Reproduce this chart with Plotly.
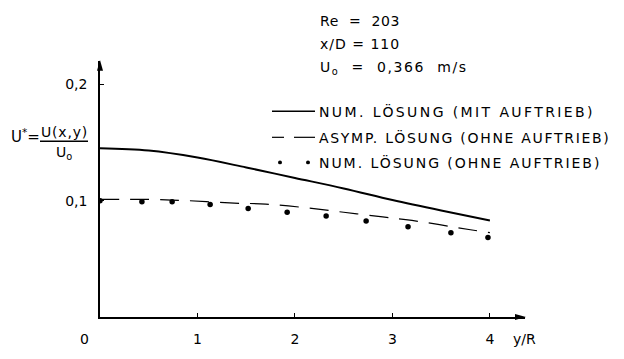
import plotly.graph_objects as go

# velocity profiles U* = U(x,y)/U0 over y/R
y_solid = [0.0, 0.5, 1.0, 1.5, 2.0, 2.5, 3.0, 3.5, 4.0]
u_solid = [0.145, 0.143, 0.137, 0.1285, 0.1195, 0.1105, 0.1005, 0.0915, 0.083]

y_dash = [0.0, 0.5, 0.9, 1.33, 1.7, 2.1, 2.5, 2.9, 3.2, 3.8, 4.0]
u_dash = [0.101, 0.101, 0.100, 0.098, 0.097, 0.094, 0.090, 0.086, 0.083, 0.075, 0.0725]

y_dots = [0.0, 0.43, 0.74, 1.13, 1.52, 1.92, 2.32, 2.73, 3.16, 3.60, 3.98]
u_dots = [0.100, 0.099, 0.099, 0.0967, 0.0933, 0.090, 0.0867, 0.0825, 0.0775, 0.0725, 0.0683]

x_ticks = [1, 2, 3, 4]
y_ticks = [0.1, 0.2]
y_ticklabels = ["0,1", "0,2"]

legend_labels = [
    "NUM. LÖSUNG (MIT AUFTRIEB)",
    "ASYMP. LÖSUNG (OHNE AUFTRIEB)",
    "NUM. LÖSUNG (OHNE AUFTRIEB)",
]
params = ["Re  =  203", "x/D = 110", "U<sub>o</sub>  =  0,366  m/s"]

W, H = 624, 359
L, R, T, B = 100, 99, 61, 33
XMAX, YMAX = 4.36, 0.22
FONT = "DejaVu Sans"


def px(xp):
    return (xp - L) / (W - L - R)


def py(yp):
    return (H - B - yp) / (H - T - B)


def spaced(s, ls):
    return f'<span style="letter-spacing:{ls}px">{s}</span>'


fig = go.Figure()
fig.add_trace(go.Scatter(x=y_solid, y=u_solid, mode="lines", line=dict(color="black", width=2, shape="spline")))
fig.add_trace(go.Scatter(x=y_dash, y=u_dash, mode="lines", line=dict(color="black", width=1.2, dash="19px,11px", shape="spline")))
fig.add_trace(go.Scatter(x=y_dots, y=u_dots, mode="markers", marker=dict(color="black", size=5.5)))

shapes = []
annotations = []
txt = dict(family=FONT, color="black")

# legend samples
rows = [113, 140, 166]
shapes.append(dict(type="line", xref="paper", yref="paper", x0=px(272), x1=px(315), y0=py(rows[0]), y1=py(rows[0]), line=dict(color="black", width=1.5)))
for a, b in [(272, 284), (294, 315)]:
    shapes.append(dict(type="line", xref="paper", yref="paper", x0=px(a), x1=px(b), y0=py(rows[1]), y1=py(rows[1]), line=dict(color="black", width=1.2)))
for cx in [280, 308]:
    shapes.append(dict(type="circle", xref="paper", yref="paper", x0=px(cx - 2), x1=px(cx + 2), y0=py(rows[2] + 2), y1=py(rows[2] - 2), fillcolor="black", line=dict(color="black", width=0)))
for row, lab, ls in zip(rows, legend_labels, [2.4, 1.7, 1.95]):
    annotations.append(dict(xref="paper", yref="paper", x=px(317), y=py(row), text=spaced(lab, ls), showarrow=False, xanchor="left", yanchor="middle", font=dict(size=14, **txt)))

# flow parameters
for row, lab, ls in zip([20, 43, 68], params, [0.6, 1.0, 1.6]):
    annotations.append(dict(xref="paper", yref="paper", x=px(318), y=py(row), text=spaced(lab, ls), showarrow=False, xanchor="left", yanchor="middle", font=dict(size=14, **txt)))

# axis title U* = U(x,y)/U0
annotations.append(dict(xref="paper", yref="paper", x=px(9), y=py(139), text="U<sup>*</sup>=", showarrow=False, xanchor="left", yanchor="middle", font=dict(size=15, **txt)))
annotations.append(dict(xref="paper", yref="paper", x=px(64), y=py(134), text=spaced("U(x,y)", 0.8), showarrow=False, xanchor="center", yanchor="middle", font=dict(size=14, **txt)))
annotations.append(dict(xref="paper", yref="paper", x=px(64), y=py(156), text="U<sub>o</sub>", showarrow=False, xanchor="center", yanchor="middle", font=dict(size=14, **txt)))
shapes.append(dict(type="line", xref="paper", yref="paper", x0=px(40), x1=px(88), y0=py(144), y1=py(144), line=dict(color="black", width=1.5)))

# origin and axis labels
annotations.append(dict(xref="paper", yref="paper", x=px(84), y=py(349), text="0", showarrow=False, xanchor="center", yanchor="middle", font=dict(size=14, **txt)))
annotations.append(dict(xref="paper", yref="paper", x=px(524), y=py(349), text="y/R", showarrow=False, xanchor="center", yanchor="middle", font=dict(size=14, **txt)))

# axis arrowheads
x_tip, y_tip = px(526), py(326)
shapes.append(dict(type="path", xref="paper", yref="paper",
                   path=f"M {x_tip} {y_tip} L {px(515)} {py(323)} L {px(515)} {py(329)} Z",
                   fillcolor="black", line=dict(color="black", width=0)))
shapes.append(dict(type="path", xref="paper", yref="paper",
                   path=f"M {px(100)} {py(60)} L {px(97)} {py(71)} L {px(103)} {py(71)} Z",
                   fillcolor="black", line=dict(color="black", width=0)))

fig.update_layout(
    width=W, height=H,
    margin=dict(l=L, r=R, t=T, b=B),
    paper_bgcolor="white", plot_bgcolor="white",
    showlegend=False,
    shapes=shapes, annotations=annotations,
    font=dict(family=FONT, size=14, color="black"),
)
fig.update_xaxes(
    range=[0, XMAX], showgrid=False, zeroline=False,
    showline=True, linecolor="black", linewidth=1.6,
    tickvals=x_ticks, ticktext=[str(v) for v in x_ticks],
    ticks="inside", ticklen=4, tickcolor="black", tickwidth=1,
    ticklabelstandoff=8,
)
fig.update_yaxes(
    range=[0, YMAX], showgrid=False, zeroline=False,
    showline=True, linecolor="black", linewidth=1.6,
    tickvals=y_ticks, ticktext=y_ticklabels,
    ticks="inside", ticklen=4, tickcolor="black", tickwidth=1,
    ticklabelstandoff=8,
)

fig.write_html("out.html")
